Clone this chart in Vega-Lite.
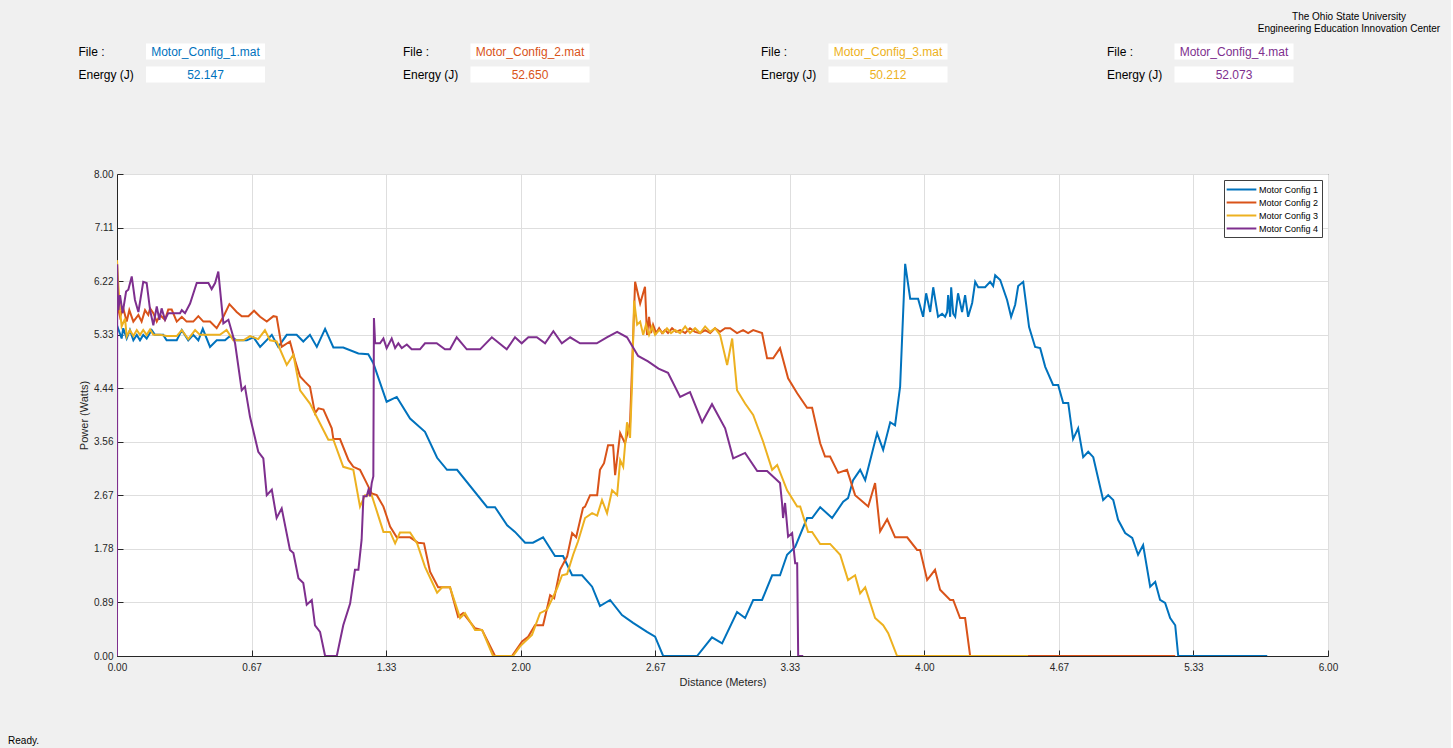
{
"$schema": "https://vega.github.io/schema/vega-lite/v6.json",
"background": "#f0f0f0",
"padding": {"left": 8, "top": 12, "right": 10, "bottom": 2},
"config": {"font": "Liberation Sans", "view": {"stroke": null}},
"title": {"text": "Ready.", "orient": "bottom", "anchor": "start", "frame": "bounds", "fontSize": 10, "fontWeight": "normal", "color": "#000000", "dx": -70, "offset": 48},
"spacing": 79,
"resolve": {"scale": {"color": "independent"}, "legend": {"color": "independent"}},
"datasets": {
"header": [
{"config":"Motor Config 1","cfg":1,"row":"File :","val":"Motor_Config_1.mat"},
{"config":"Motor Config 1","cfg":1,"row":"Energy (J)","val":"52.147"},
{"config":"Motor Config 2","cfg":2,"row":"File :","val":"Motor_Config_2.mat"},
{"config":"Motor Config 2","cfg":2,"row":"Energy (J)","val":"52.650"},
{"config":"Motor Config 3","cfg":3,"row":"File :","val":"Motor_Config_3.mat"},
{"config":"Motor Config 3","cfg":3,"row":"Energy (J)","val":"50.212"},
{"config":"Motor Config 4","cfg":4,"row":"File :","val":"Motor_Config_4.mat"},
{"config":"Motor Config 4","cfg":4,"row":"Energy (J)","val":"52.073"}
],
"power": [
{"config":"Motor Config 1","d":0,"p":5.49},{"config":"Motor Config 1","d":0.023,"p":5.27},{"config":"Motor Config 1","d":0.031,"p":5.44},{"config":"Motor Config 1","d":0.048,"p":5.27},{"config":"Motor Config 1","d":0.064,"p":5.41},{"config":"Motor Config 1","d":0.081,"p":5.24},{"config":"Motor Config 1","d":0.098,"p":5.33},{"config":"Motor Config 1","d":0.114,"p":5.24},{"config":"Motor Config 1","d":0.130,"p":5.33},{"config":"Motor Config 1","d":0.147,"p":5.27},{"config":"Motor Config 1","d":0.172,"p":5.41},{"config":"Motor Config 1","d":0.188,"p":5.33},{"config":"Motor Config 1","d":0.229,"p":5.33},{"config":"Motor Config 1","d":0.246,"p":5.24},{"config":"Motor Config 1","d":0.296,"p":5.24},{"config":"Motor Config 1","d":0.321,"p":5.41},{"config":"Motor Config 1","d":0.353,"p":5.24},{"config":"Motor Config 1","d":0.378,"p":5.33},{"config":"Motor Config 1","d":0.403,"p":5.24},{"config":"Motor Config 1","d":0.425,"p":5.43},{"config":"Motor Config 1","d":0.461,"p":5.13},{"config":"Motor Config 1","d":0.494,"p":5.24},{"config":"Motor Config 1","d":0.535,"p":5.24},{"config":"Motor Config 1","d":0.560,"p":5.31},{"config":"Motor Config 1","d":0.593,"p":5.24},{"config":"Motor Config 1","d":0.643,"p":5.24},{"config":"Motor Config 1","d":0.676,"p":5.29},{"config":"Motor Config 1","d":0.709,"p":5.13},{"config":"Motor Config 1","d":0.767,"p":5.33},{"config":"Motor Config 1","d":0.799,"p":5.13},{"config":"Motor Config 1","d":0.841,"p":5.33},{"config":"Motor Config 1","d":0.890,"p":5.33},{"config":"Motor Config 1","d":0.923,"p":5.22},{"config":"Motor Config 1","d":0.956,"p":5.33},{"config":"Motor Config 1","d":0.990,"p":5.13},{"config":"Motor Config 1","d":1.031,"p":5.43},{"config":"Motor Config 1","d":1.072,"p":5.12},{"config":"Motor Config 1","d":1.121,"p":5.12},{"config":"Motor Config 1","d":1.196,"p":5.02},{"config":"Motor Config 1","d":1.245,"p":5.01},{"config":"Motor Config 1","d":1.270,"p":4.86},{"config":"Motor Config 1","d":1.336,"p":4.22},{"config":"Motor Config 1","d":1.386,"p":4.30},{"config":"Motor Config 1","d":1.452,"p":3.94},{"config":"Motor Config 1","d":1.526,"p":3.72},{"config":"Motor Config 1","d":1.586,"p":3.29},{"config":"Motor Config 1","d":1.635,"p":3.09},{"config":"Motor Config 1","d":1.685,"p":3.09},{"config":"Motor Config 1","d":1.834,"p":2.47},{"config":"Motor Config 1","d":1.873,"p":2.47},{"config":"Motor Config 1","d":1.933,"p":2.17},{"config":"Motor Config 1","d":1.972,"p":2.06},{"config":"Motor Config 1","d":2.022,"p":1.88},{"config":"Motor Config 1","d":2.061,"p":1.88},{"config":"Motor Config 1","d":2.111,"p":1.97},{"config":"Motor Config 1","d":2.170,"p":1.66},{"config":"Motor Config 1","d":2.210,"p":1.66},{"config":"Motor Config 1","d":2.255,"p":1.34},{"config":"Motor Config 1","d":2.304,"p":1.34},{"config":"Motor Config 1","d":2.354,"p":1.15},{"config":"Motor Config 1","d":2.393,"p":0.83},{"config":"Motor Config 1","d":2.443,"p":0.93},{"config":"Motor Config 1","d":2.502,"p":0.68},{"config":"Motor Config 1","d":2.557,"p":0.55},{"config":"Motor Config 1","d":2.626,"p":0.40},{"config":"Motor Config 1","d":2.666,"p":0.32},{"config":"Motor Config 1","d":2.706,"p":0},{"config":"Motor Config 1","d":2.874,"p":0},{"config":"Motor Config 1","d":2.948,"p":0.31},{"config":"Motor Config 1","d":2.998,"p":0.21},{"config":"Motor Config 1","d":3.072,"p":0.73},{"config":"Motor Config 1","d":3.112,"p":0.63},{"config":"Motor Config 1","d":3.152,"p":0.93},{"config":"Motor Config 1","d":3.196,"p":0.93},{"config":"Motor Config 1","d":3.246,"p":1.34},{"config":"Motor Config 1","d":3.285,"p":1.34},{"config":"Motor Config 1","d":3.320,"p":1.68},{"config":"Motor Config 1","d":3.360,"p":1.81},{"config":"Motor Config 1","d":3.419,"p":2.29},{"config":"Motor Config 1","d":3.444,"p":2.29},{"config":"Motor Config 1","d":3.484,"p":2.47},{"config":"Motor Config 1","d":3.543,"p":2.29},{"config":"Motor Config 1","d":3.598,"p":2.56},{"config":"Motor Config 1","d":3.622,"p":2.62},{"config":"Motor Config 1","d":3.647,"p":2.92},{"config":"Motor Config 1","d":3.682,"p":3.09},{"config":"Motor Config 1","d":3.707,"p":2.92},{"config":"Motor Config 1","d":3.766,"p":3.70},{"config":"Motor Config 1","d":3.796,"p":3.42},{"config":"Motor Config 1","d":3.831,"p":3.88},{"config":"Motor Config 1","d":3.855,"p":3.83},{"config":"Motor Config 1","d":3.880,"p":4.47},{"config":"Motor Config 1","d":3.905,"p":6.51},{"config":"Motor Config 1","d":3.930,"p":5.93},{"config":"Motor Config 1","d":3.969,"p":5.93},{"config":"Motor Config 1","d":3.994,"p":5.63},{"config":"Motor Config 1","d":4.009,"p":6.02},{"config":"Motor Config 1","d":4.029,"p":5.71},{"config":"Motor Config 1","d":4.044,"p":6.12},{"config":"Motor Config 1","d":4.068,"p":5.63},{"config":"Motor Config 1","d":4.088,"p":5.68},{"config":"Motor Config 1","d":4.103,"p":5.63},{"config":"Motor Config 1","d":4.113,"p":5.71},{"config":"Motor Config 1","d":4.118,"p":5.99},{"config":"Motor Config 1","d":4.128,"p":5.63},{"config":"Motor Config 1","d":4.133,"p":6.12},{"config":"Motor Config 1","d":4.143,"p":5.68},{"config":"Motor Config 1","d":4.153,"p":5.63},{"config":"Motor Config 1","d":4.167,"p":6.02},{"config":"Motor Config 1","d":4.187,"p":5.71},{"config":"Motor Config 1","d":4.202,"p":5.99},{"config":"Motor Config 1","d":4.217,"p":5.63},{"config":"Motor Config 1","d":4.237,"p":5.86},{"config":"Motor Config 1","d":4.252,"p":6.21},{"config":"Motor Config 1","d":4.267,"p":6.12},{"config":"Motor Config 1","d":4.301,"p":6.12},{"config":"Motor Config 1","d":4.326,"p":6.21},{"config":"Motor Config 1","d":4.341,"p":6.14},{"config":"Motor Config 1","d":4.351,"p":6.32},{"config":"Motor Config 1","d":4.376,"p":6.24},{"config":"Motor Config 1","d":4.410,"p":5.91},{"config":"Motor Config 1","d":4.430,"p":5.63},{"config":"Motor Config 1","d":4.450,"p":5.83},{"config":"Motor Config 1","d":4.465,"p":6.14},{"config":"Motor Config 1","d":4.490,"p":6.21},{"config":"Motor Config 1","d":4.519,"p":5.46},{"config":"Motor Config 1","d":4.549,"p":5.13},{"config":"Motor Config 1","d":4.574,"p":5.11},{"config":"Motor Config 1","d":4.599,"p":4.80},{"config":"Motor Config 1","d":4.638,"p":4.50},{"config":"Motor Config 1","d":4.663,"p":4.50},{"config":"Motor Config 1","d":4.688,"p":4.20},{"config":"Motor Config 1","d":4.713,"p":4.20},{"config":"Motor Config 1","d":4.737,"p":3.60},{"config":"Motor Config 1","d":4.762,"p":3.78},{"config":"Motor Config 1","d":4.787,"p":3.30},{"config":"Motor Config 1","d":4.812,"p":3.39},{"config":"Motor Config 1","d":4.837,"p":3.30},{"config":"Motor Config 1","d":4.886,"p":2.59},{"config":"Motor Config 1","d":4.911,"p":2.67},{"config":"Motor Config 1","d":4.936,"p":2.59},{"config":"Motor Config 1","d":4.960,"p":2.26},{"config":"Motor Config 1","d":4.995,"p":2.04},{"config":"Motor Config 1","d":5.030,"p":1.96},{"config":"Motor Config 1","d":5.059,"p":1.68},{"config":"Motor Config 1","d":5.084,"p":1.84},{"config":"Motor Config 1","d":5.119,"p":1.15},{"config":"Motor Config 1","d":5.144,"p":1.23},{"config":"Motor Config 1","d":5.168,"p":0.93},{"config":"Motor Config 1","d":5.193,"p":0.88},{"config":"Motor Config 1","d":5.218,"p":0.63},{"config":"Motor Config 1","d":5.243,"p":0.51},{"config":"Motor Config 1","d":5.258,"p":0},{"config":"Motor Config 1","d":5.699,"p":0},
{"config":"Motor Config 2","d":0,"p":5.85},{"config":"Motor Config 2","d":0.015,"p":5.63},{"config":"Motor Config 2","d":0.031,"p":5.77},{"config":"Motor Config 2","d":0.048,"p":5.55},{"config":"Motor Config 2","d":0.061,"p":5.74},{"config":"Motor Config 2","d":0.081,"p":5.55},{"config":"Motor Config 2","d":0.106,"p":5.66},{"config":"Motor Config 2","d":0.122,"p":5.55},{"config":"Motor Config 2","d":0.139,"p":5.74},{"config":"Motor Config 2","d":0.155,"p":5.66},{"config":"Motor Config 2","d":0.164,"p":5.77},{"config":"Motor Config 2","d":0.180,"p":5.69},{"config":"Motor Config 2","d":0.197,"p":5.55},{"config":"Motor Config 2","d":0.213,"p":5.66},{"config":"Motor Config 2","d":0.238,"p":5.58},{"config":"Motor Config 2","d":0.254,"p":5.75},{"config":"Motor Config 2","d":0.271,"p":5.75},{"config":"Motor Config 2","d":0.296,"p":5.55},{"config":"Motor Config 2","d":0.321,"p":5.63},{"config":"Motor Config 2","d":0.345,"p":5.55},{"config":"Motor Config 2","d":0.378,"p":5.55},{"config":"Motor Config 2","d":0.403,"p":5.64},{"config":"Motor Config 2","d":0.428,"p":5.55},{"config":"Motor Config 2","d":0.461,"p":5.55},{"config":"Motor Config 2","d":0.494,"p":5.44},{"config":"Motor Config 2","d":0.527,"p":5.63},{"config":"Motor Config 2","d":0.557,"p":5.84},{"config":"Motor Config 2","d":0.593,"p":5.71},{"config":"Motor Config 2","d":0.618,"p":5.64},{"config":"Motor Config 2","d":0.651,"p":5.64},{"config":"Motor Config 2","d":0.679,"p":5.73},{"config":"Motor Config 2","d":0.709,"p":5.63},{"config":"Motor Config 2","d":0.742,"p":5.55},{"config":"Motor Config 2","d":0.775,"p":5.64},{"config":"Motor Config 2","d":0.791,"p":5.63},{"config":"Motor Config 2","d":0.816,"p":5.13},{"config":"Motor Config 2","d":0.857,"p":5.22},{"config":"Motor Config 2","d":0.882,"p":4.91},{"config":"Motor Config 2","d":0.907,"p":4.64},{"config":"Motor Config 2","d":0.932,"p":4.55},{"config":"Motor Config 2","d":0.956,"p":4.47},{"config":"Motor Config 2","d":0.981,"p":4.03},{"config":"Motor Config 2","d":0.998,"p":4.11},{"config":"Motor Config 2","d":1.023,"p":4.09},{"config":"Motor Config 2","d":1.064,"p":3.78},{"config":"Motor Config 2","d":1.072,"p":3.60},{"config":"Motor Config 2","d":1.105,"p":3.60},{"config":"Motor Config 2","d":1.147,"p":3.25},{"config":"Motor Config 2","d":1.171,"p":3.14},{"config":"Motor Config 2","d":1.204,"p":3.09},{"config":"Motor Config 2","d":1.237,"p":2.87},{"config":"Motor Config 2","d":1.262,"p":2.70},{"config":"Motor Config 2","d":1.287,"p":2.67},{"config":"Motor Config 2","d":1.320,"p":2.48},{"config":"Motor Config 2","d":1.353,"p":2.15},{"config":"Motor Config 2","d":1.386,"p":1.97},{"config":"Motor Config 2","d":1.452,"p":1.97},{"config":"Motor Config 2","d":1.492,"p":1.88},{"config":"Motor Config 2","d":1.521,"p":1.87},{"config":"Motor Config 2","d":1.551,"p":1.40},{"config":"Motor Config 2","d":1.591,"p":1.14},{"config":"Motor Config 2","d":1.650,"p":1.14},{"config":"Motor Config 2","d":1.690,"p":0.65},{"config":"Motor Config 2","d":1.715,"p":0.71},{"config":"Motor Config 2","d":1.774,"p":0.46},{"config":"Motor Config 2","d":1.809,"p":0.43},{"config":"Motor Config 2","d":1.873,"p":0},{"config":"Motor Config 2","d":1.957,"p":0},{"config":"Motor Config 2","d":2.007,"p":0.24},{"config":"Motor Config 2","d":2.037,"p":0.32},{"config":"Motor Config 2","d":2.071,"p":0.51},{"config":"Motor Config 2","d":2.111,"p":0.51},{"config":"Motor Config 2","d":2.146,"p":1.01},{"config":"Motor Config 2","d":2.166,"p":0.96},{"config":"Motor Config 2","d":2.195,"p":1.43},{"config":"Motor Config 2","d":2.230,"p":1.65},{"config":"Motor Config 2","d":2.255,"p":2.04},{"config":"Motor Config 2","d":2.275,"p":1.97},{"config":"Motor Config 2","d":2.309,"p":2.46},{"config":"Motor Config 2","d":2.319,"p":2.48},{"config":"Motor Config 2","d":2.344,"p":2.67},{"config":"Motor Config 2","d":2.379,"p":2.67},{"config":"Motor Config 2","d":2.393,"p":3.09},{"config":"Motor Config 2","d":2.413,"p":3.20},{"config":"Motor Config 2","d":2.433,"p":3.50},{"config":"Motor Config 2","d":2.458,"p":3.50},{"config":"Motor Config 2","d":2.468,"p":3.00},{"config":"Motor Config 2","d":2.493,"p":3.70},{"config":"Motor Config 2","d":2.517,"p":3.53},{"config":"Motor Config 2","d":2.542,"p":3.87},{"config":"Motor Config 2","d":2.567,"p":6.21},{"config":"Motor Config 2","d":2.592,"p":5.85},{"config":"Motor Config 2","d":2.616,"p":6.13},{"config":"Motor Config 2","d":2.626,"p":5.33},{"config":"Motor Config 2","d":2.636,"p":5.63},{"config":"Motor Config 2","d":2.646,"p":5.36},{"config":"Motor Config 2","d":2.656,"p":5.50},{"config":"Motor Config 2","d":2.671,"p":5.36},{"config":"Motor Config 2","d":2.686,"p":5.44},{"config":"Motor Config 2","d":2.701,"p":5.36},{"config":"Motor Config 2","d":2.716,"p":5.41},{"config":"Motor Config 2","d":2.730,"p":5.36},{"config":"Motor Config 2","d":2.750,"p":5.44},{"config":"Motor Config 2","d":2.770,"p":5.38},{"config":"Motor Config 2","d":2.790,"p":5.41},{"config":"Motor Config 2","d":2.815,"p":5.36},{"config":"Motor Config 2","d":2.839,"p":5.44},{"config":"Motor Config 2","d":2.864,"p":5.38},{"config":"Motor Config 2","d":2.889,"p":5.36},{"config":"Motor Config 2","d":2.914,"p":5.41},{"config":"Motor Config 2","d":2.939,"p":5.36},{"config":"Motor Config 2","d":2.963,"p":5.44},{"config":"Motor Config 2","d":2.988,"p":5.38},{"config":"Motor Config 2","d":3.013,"p":5.44},{"config":"Motor Config 2","d":3.038,"p":5.44},{"config":"Motor Config 2","d":3.072,"p":5.36},{"config":"Motor Config 2","d":3.102,"p":5.41},{"config":"Motor Config 2","d":3.127,"p":5.36},{"config":"Motor Config 2","d":3.152,"p":5.41},{"config":"Motor Config 2","d":3.196,"p":5.36},{"config":"Motor Config 2","d":3.221,"p":4.94},{"config":"Motor Config 2","d":3.251,"p":4.94},{"config":"Motor Config 2","d":3.285,"p":5.11},{"config":"Motor Config 2","d":3.325,"p":4.61},{"config":"Motor Config 2","d":3.370,"p":4.36},{"config":"Motor Config 2","d":3.419,"p":4.12},{"config":"Motor Config 2","d":3.444,"p":4.12},{"config":"Motor Config 2","d":3.484,"p":3.53},{"config":"Motor Config 2","d":3.508,"p":3.31},{"config":"Motor Config 2","d":3.533,"p":3.31},{"config":"Motor Config 2","d":3.573,"p":3.04},{"config":"Motor Config 2","d":3.617,"p":3.09},{"config":"Motor Config 2","d":3.657,"p":2.67},{"config":"Motor Config 2","d":3.722,"p":2.48},{"config":"Motor Config 2","d":3.756,"p":2.87},{"config":"Motor Config 2","d":3.781,"p":2.07},{"config":"Motor Config 2","d":3.816,"p":2.27},{"config":"Motor Config 2","d":3.855,"p":1.97},{"config":"Motor Config 2","d":3.915,"p":1.97},{"config":"Motor Config 2","d":3.964,"p":1.76},{"config":"Motor Config 2","d":3.979,"p":1.76},{"config":"Motor Config 2","d":4.014,"p":1.26},{"config":"Motor Config 2","d":4.053,"p":1.43},{"config":"Motor Config 2","d":4.078,"p":1.10},{"config":"Motor Config 2","d":4.128,"p":0.93},{"config":"Motor Config 2","d":4.143,"p":0.93},{"config":"Motor Config 2","d":4.177,"p":0.63},{"config":"Motor Config 2","d":4.202,"p":0.63},{"config":"Motor Config 2","d":4.227,"p":0},{"config":"Motor Config 2","d":5.243,"p":0},
{"config":"Motor Config 3","d":0,"p":6.57},{"config":"Motor Config 3","d":0.007,"p":6.13},{"config":"Motor Config 3","d":0.015,"p":5.74},{"config":"Motor Config 3","d":0.023,"p":5.47},{"config":"Motor Config 3","d":0.040,"p":5.60},{"config":"Motor Config 3","d":0.048,"p":5.30},{"config":"Motor Config 3","d":0.064,"p":5.41},{"config":"Motor Config 3","d":0.081,"p":5.31},{"config":"Motor Config 3","d":0.098,"p":5.41},{"config":"Motor Config 3","d":0.114,"p":5.33},{"config":"Motor Config 3","d":0.130,"p":5.41},{"config":"Motor Config 3","d":0.147,"p":5.33},{"config":"Motor Config 3","d":0.164,"p":5.42},{"config":"Motor Config 3","d":0.180,"p":5.33},{"config":"Motor Config 3","d":0.213,"p":5.33},{"config":"Motor Config 3","d":0.246,"p":5.31},{"config":"Motor Config 3","d":0.296,"p":5.31},{"config":"Motor Config 3","d":0.321,"p":5.41},{"config":"Motor Config 3","d":0.353,"p":5.26},{"config":"Motor Config 3","d":0.387,"p":5.41},{"config":"Motor Config 3","d":0.411,"p":5.33},{"config":"Motor Config 3","d":0.461,"p":5.33},{"config":"Motor Config 3","d":0.510,"p":5.33},{"config":"Motor Config 3","d":0.543,"p":5.41},{"config":"Motor Config 3","d":0.576,"p":5.24},{"config":"Motor Config 3","d":0.626,"p":5.24},{"config":"Motor Config 3","d":0.659,"p":5.31},{"config":"Motor Config 3","d":0.700,"p":5.26},{"config":"Motor Config 3","d":0.733,"p":5.41},{"config":"Motor Config 3","d":0.758,"p":5.24},{"config":"Motor Config 3","d":0.791,"p":5.22},{"config":"Motor Config 3","d":0.841,"p":4.83},{"config":"Motor Config 3","d":0.874,"p":5.00},{"config":"Motor Config 3","d":0.907,"p":4.41},{"config":"Motor Config 3","d":0.956,"p":4.19},{"config":"Motor Config 3","d":1.006,"p":3.86},{"config":"Motor Config 3","d":1.047,"p":3.59},{"config":"Motor Config 3","d":1.072,"p":3.59},{"config":"Motor Config 3","d":1.121,"p":3.14},{"config":"Motor Config 3","d":1.171,"p":3.09},{"config":"Motor Config 3","d":1.204,"p":2.48},{"config":"Motor Config 3","d":1.229,"p":2.67},{"config":"Motor Config 3","d":1.262,"p":2.67},{"config":"Motor Config 3","d":1.320,"p":2.06},{"config":"Motor Config 3","d":1.353,"p":2.06},{"config":"Motor Config 3","d":1.378,"p":1.87},{"config":"Motor Config 3","d":1.402,"p":2.05},{"config":"Motor Config 3","d":1.452,"p":2.05},{"config":"Motor Config 3","d":1.487,"p":1.87},{"config":"Motor Config 3","d":1.526,"p":1.48},{"config":"Motor Config 3","d":1.586,"p":1.05},{"config":"Motor Config 3","d":1.611,"p":1.14},{"config":"Motor Config 3","d":1.650,"p":1.14},{"config":"Motor Config 3","d":1.700,"p":0.63},{"config":"Motor Config 3","d":1.724,"p":0.71},{"config":"Motor Config 3","d":1.774,"p":0.43},{"config":"Motor Config 3","d":1.809,"p":0.43},{"config":"Motor Config 3","d":1.863,"p":0},{"config":"Motor Config 3","d":1.962,"p":0},{"config":"Motor Config 3","d":1.997,"p":0.16},{"config":"Motor Config 3","d":2.056,"p":0.35},{"config":"Motor Config 3","d":2.096,"p":0.71},{"config":"Motor Config 3","d":2.131,"p":0.77},{"config":"Motor Config 3","d":2.180,"p":1.12},{"config":"Motor Config 3","d":2.205,"p":1.34},{"config":"Motor Config 3","d":2.230,"p":1.36},{"config":"Motor Config 3","d":2.260,"p":1.68},{"config":"Motor Config 3","d":2.284,"p":1.90},{"config":"Motor Config 3","d":2.319,"p":2.29},{"config":"Motor Config 3","d":2.354,"p":2.37},{"config":"Motor Config 3","d":2.379,"p":2.33},{"config":"Motor Config 3","d":2.403,"p":2.59},{"config":"Motor Config 3","d":2.428,"p":2.37},{"config":"Motor Config 3","d":2.453,"p":2.75},{"config":"Motor Config 3","d":2.478,"p":2.67},{"config":"Motor Config 3","d":2.493,"p":3.25},{"config":"Motor Config 3","d":2.508,"p":3.14},{"config":"Motor Config 3","d":2.527,"p":3.88},{"config":"Motor Config 3","d":2.542,"p":3.62},{"config":"Motor Config 3","d":2.552,"p":4.53},{"config":"Motor Config 3","d":2.562,"p":5.90},{"config":"Motor Config 3","d":2.577,"p":5.50},{"config":"Motor Config 3","d":2.592,"p":5.55},{"config":"Motor Config 3","d":2.607,"p":5.33},{"config":"Motor Config 3","d":2.621,"p":5.50},{"config":"Motor Config 3","d":2.636,"p":5.33},{"config":"Motor Config 3","d":2.651,"p":5.47},{"config":"Motor Config 3","d":2.666,"p":5.33},{"config":"Motor Config 3","d":2.686,"p":5.41},{"config":"Motor Config 3","d":2.706,"p":5.36},{"config":"Motor Config 3","d":2.725,"p":5.44},{"config":"Motor Config 3","d":2.745,"p":5.36},{"config":"Motor Config 3","d":2.765,"p":5.41},{"config":"Motor Config 3","d":2.790,"p":5.36},{"config":"Motor Config 3","d":2.815,"p":5.47},{"config":"Motor Config 3","d":2.839,"p":5.36},{"config":"Motor Config 3","d":2.864,"p":5.44},{"config":"Motor Config 3","d":2.889,"p":5.36},{"config":"Motor Config 3","d":2.914,"p":5.47},{"config":"Motor Config 3","d":2.939,"p":5.38},{"config":"Motor Config 3","d":2.963,"p":5.44},{"config":"Motor Config 3","d":2.988,"p":5.33},{"config":"Motor Config 3","d":3.023,"p":4.83},{"config":"Motor Config 3","d":3.048,"p":5.27},{"config":"Motor Config 3","d":3.072,"p":4.41},{"config":"Motor Config 3","d":3.112,"p":4.19},{"config":"Motor Config 3","d":3.152,"p":4.00},{"config":"Motor Config 3","d":3.201,"p":3.56},{"config":"Motor Config 3","d":3.246,"p":3.09},{"config":"Motor Config 3","d":3.271,"p":3.17},{"config":"Motor Config 3","d":3.320,"p":2.75},{"config":"Motor Config 3","d":3.370,"p":2.48},{"config":"Motor Config 3","d":3.385,"p":2.48},{"config":"Motor Config 3","d":3.424,"p":2.06},{"config":"Motor Config 3","d":3.444,"p":2.06},{"config":"Motor Config 3","d":3.484,"p":1.86},{"config":"Motor Config 3","d":3.533,"p":1.86},{"config":"Motor Config 3","d":3.583,"p":1.68},{"config":"Motor Config 3","d":3.622,"p":1.26},{"config":"Motor Config 3","d":3.657,"p":1.34},{"config":"Motor Config 3","d":3.682,"p":1.04},{"config":"Motor Config 3","d":3.707,"p":1.14},{"config":"Motor Config 3","d":3.756,"p":0.63},{"config":"Motor Config 3","d":3.796,"p":0.51},{"config":"Motor Config 3","d":3.821,"p":0.38},{"config":"Motor Config 3","d":3.865,"p":0},{"config":"Motor Config 3","d":4.514,"p":0},
{"config":"Motor Config 4","d":0,"p":0},{"config":"Motor Config 4","d":0.001,"p":6.5},{"config":"Motor Config 4","d":0.004,"p":6.02},{"config":"Motor Config 4","d":0.007,"p":5.74},{"config":"Motor Config 4","d":0.015,"p":5.99},{"config":"Motor Config 4","d":0.028,"p":5.69},{"config":"Motor Config 4","d":0.045,"p":6.05},{"config":"Motor Config 4","d":0.056,"p":6.08},{"config":"Motor Config 4","d":0.073,"p":6.30},{"config":"Motor Config 4","d":0.089,"p":5.91},{"config":"Motor Config 4","d":0.106,"p":5.71},{"config":"Motor Config 4","d":0.130,"p":6.21},{"config":"Motor Config 4","d":0.147,"p":6.19},{"config":"Motor Config 4","d":0.164,"p":5.74},{"config":"Motor Config 4","d":0.180,"p":5.49},{"config":"Motor Config 4","d":0.197,"p":5.80},{"config":"Motor Config 4","d":0.210,"p":5.58},{"config":"Motor Config 4","d":0.221,"p":5.77},{"config":"Motor Config 4","d":0.238,"p":5.58},{"config":"Motor Config 4","d":0.254,"p":5.69},{"config":"Motor Config 4","d":0.279,"p":5.69},{"config":"Motor Config 4","d":0.312,"p":5.69},{"config":"Motor Config 4","d":0.321,"p":5.74},{"config":"Motor Config 4","d":0.337,"p":5.69},{"config":"Motor Config 4","d":0.362,"p":5.85},{"config":"Motor Config 4","d":0.395,"p":6.19},{"config":"Motor Config 4","d":0.453,"p":6.19},{"config":"Motor Config 4","d":0.469,"p":6.09},{"config":"Motor Config 4","d":0.486,"p":6.19},{"config":"Motor Config 4","d":0.502,"p":6.38},{"config":"Motor Config 4","d":0.527,"p":5.52},{"config":"Motor Config 4","d":0.552,"p":5.58},{"config":"Motor Config 4","d":0.585,"p":5.19},{"config":"Motor Config 4","d":0.618,"p":4.41},{"config":"Motor Config 4","d":0.634,"p":4.47},{"config":"Motor Config 4","d":0.659,"p":3.97},{"config":"Motor Config 4","d":0.700,"p":3.39},{"config":"Motor Config 4","d":0.725,"p":3.28},{"config":"Motor Config 4","d":0.742,"p":2.67},{"config":"Motor Config 4","d":0.767,"p":2.76},{"config":"Motor Config 4","d":0.791,"p":2.29},{"config":"Motor Config 4","d":0.816,"p":2.45},{"config":"Motor Config 4","d":0.857,"p":1.76},{"config":"Motor Config 4","d":0.874,"p":1.71},{"config":"Motor Config 4","d":0.899,"p":1.29},{"config":"Motor Config 4","d":0.923,"p":1.21},{"config":"Motor Config 4","d":0.940,"p":0.85},{"config":"Motor Config 4","d":0.965,"p":0.93},{"config":"Motor Config 4","d":0.981,"p":0.51},{"config":"Motor Config 4","d":1.006,"p":0.40},{"config":"Motor Config 4","d":1.031,"p":0},{"config":"Motor Config 4","d":1.089,"p":0},{"config":"Motor Config 4","d":1.121,"p":0.51},{"config":"Motor Config 4","d":1.155,"p":0.87},{"config":"Motor Config 4","d":1.179,"p":1.43},{"config":"Motor Config 4","d":1.196,"p":1.43},{"config":"Motor Config 4","d":1.212,"p":1.93},{"config":"Motor Config 4","d":1.221,"p":2.65},{"config":"Motor Config 4","d":1.237,"p":2.65},{"config":"Motor Config 4","d":1.246,"p":2.76},{"config":"Motor Config 4","d":1.254,"p":2.65},{"config":"Motor Config 4","d":1.262,"p":2.87},{"config":"Motor Config 4","d":1.270,"p":2.98},{"config":"Motor Config 4","d":1.273,"p":5.61},{"config":"Motor Config 4","d":1.279,"p":5.19},{"config":"Motor Config 4","d":1.303,"p":5.19},{"config":"Motor Config 4","d":1.320,"p":5.27},{"config":"Motor Config 4","d":1.336,"p":5.11},{"config":"Motor Config 4","d":1.361,"p":5.27},{"config":"Motor Config 4","d":1.378,"p":5.11},{"config":"Motor Config 4","d":1.394,"p":5.19},{"config":"Motor Config 4","d":1.411,"p":5.11},{"config":"Motor Config 4","d":1.436,"p":5.17},{"config":"Motor Config 4","d":1.460,"p":5.09},{"config":"Motor Config 4","d":1.501,"p":5.09},{"config":"Motor Config 4","d":1.526,"p":5.19},{"config":"Motor Config 4","d":1.584,"p":5.19},{"config":"Motor Config 4","d":1.625,"p":5.09},{"config":"Motor Config 4","d":1.650,"p":5.09},{"config":"Motor Config 4","d":1.683,"p":5.29},{"config":"Motor Config 4","d":1.733,"p":5.09},{"config":"Motor Config 4","d":1.799,"p":5.09},{"config":"Motor Config 4","d":1.857,"p":5.29},{"config":"Motor Config 4","d":1.931,"p":5.09},{"config":"Motor Config 4","d":1.972,"p":5.29},{"config":"Motor Config 4","d":2.005,"p":5.19},{"config":"Motor Config 4","d":2.038,"p":5.29},{"config":"Motor Config 4","d":2.080,"p":5.29},{"config":"Motor Config 4","d":2.121,"p":5.19},{"config":"Motor Config 4","d":2.162,"p":5.39},{"config":"Motor Config 4","d":2.204,"p":5.19},{"config":"Motor Config 4","d":2.245,"p":5.29},{"config":"Motor Config 4","d":2.294,"p":5.19},{"config":"Motor Config 4","d":2.377,"p":5.19},{"config":"Motor Config 4","d":2.427,"p":5.29},{"config":"Motor Config 4","d":2.478,"p":5.38},{"config":"Motor Config 4","d":2.527,"p":5.29},{"config":"Motor Config 4","d":2.582,"p":4.98},{"config":"Motor Config 4","d":2.631,"p":4.89},{"config":"Motor Config 4","d":2.683,"p":4.77},{"config":"Motor Config 4","d":2.730,"p":4.70},{"config":"Motor Config 4","d":2.790,"p":4.30},{"config":"Motor Config 4","d":2.839,"p":4.38},{"config":"Motor Config 4","d":2.899,"p":3.88},{"config":"Motor Config 4","d":2.948,"p":4.18},{"config":"Motor Config 4","d":3.013,"p":3.78},{"config":"Motor Config 4","d":3.053,"p":3.28},{"config":"Motor Config 4","d":3.112,"p":3.37},{"config":"Motor Config 4","d":3.172,"p":3.07},{"config":"Motor Config 4","d":3.221,"p":3.07},{"config":"Motor Config 4","d":3.285,"p":2.87},{"config":"Motor Config 4","d":3.295,"p":2.54},{"config":"Motor Config 4","d":3.300,"p":2.29},{"config":"Motor Config 4","d":3.310,"p":2.54},{"config":"Motor Config 4","d":3.325,"p":1.98},{"config":"Motor Config 4","d":3.345,"p":2.04},{"config":"Motor Config 4","d":3.360,"p":1.54},{"config":"Motor Config 4","d":3.370,"p":1.54},{"config":"Motor Config 4","d":3.375,"p":0},{"config":"Motor Config 4","d":3.400,"p":0}
]
},
"vconcat": [
{
"width": 1211,
"height": 50,
"title": {"text": ["The Ohio State University", "Engineering Education Innovation Center"], "anchor": "end", "frame": "group", "align": "center", "fontSize": 10, "fontWeight": "normal", "color": "#000000", "lineHeight": 12, "dx": 21, "offset": 5},
"data": {"name": "header"},
"encoding": {
"x": {"field": "cfg", "type": "quantitative", "scale": {"domain": [1, 2, 3, 4], "range": [88.5, 413, 771, 1117]}, "axis": null},
"y": {"field": "row", "type": "nominal", "scale": {"type": "point", "padding": 0, "domain": ["File :", "Energy (J)"], "range": [12.5, 35.5]}, "axis": null}
},
"layer": [
{"mark": {"type": "rect", "width": 119, "height": 16, "fill": "#ffffff"}},
{"mark": {"type": "text", "align": "center", "baseline": "middle", "fontSize": 12}, "encoding": {"text": {"field": "val"}, "color": {"field": "config", "type": "nominal", "scale": {"domain": ["Motor Config 1", "Motor Config 2", "Motor Config 3", "Motor Config 4"], "range": ["#0072BD", "#D95319", "#EDB120", "#7E2F8E"]}, "legend": null}}},
{"mark": {"type": "text", "align": "left", "baseline": "middle", "dx": -127, "fontSize": 12, "color": "#000000"}, "encoding": {"text": {"field": "row"}}}
]
},
{
"width": 1211,
"height": 482,
"data": {"name": "power"},
"view": {"fill": "#ffffff", "stroke": "#262626", "strokeWidth": 1},
"mark": {"type": "line", "strokeWidth": 2, "clip": true},
"encoding": {
"x": {"field": "d", "type": "quantitative", "scale": {"domain": [0, 6], "nice": false}, "axis": {"title": "Distance (Meters)", "values": [0, 0.6667, 1.3333, 2, 2.6667, 3.3333, 4, 4.6667, 5.3333, 6], "format": ".2f", "labelFlush": false, "grid": true, "gridColor": "#dedede", "domainColor": "#262626", "tickColor": "#262626", "tickSize": -6, "labelPadding": 12, "labelFontSize": 10, "labelColor": "#262626", "titleFontSize": 11, "titleFontWeight": "normal", "titleColor": "#262626", "titlePadding": 4}},
"y": {"field": "p", "type": "quantitative", "scale": {"domain": [0, 8], "nice": false}, "axis": {"title": "Power (Watts)", "values": [0, 0.8889, 1.7778, 2.6667, 3.5556, 4.4444, 5.3333, 6.2222, 7.1111, 8], "format": ".2f", "labelFlush": false, "grid": true, "gridColor": "#dedede", "domainColor": "#262626", "tickColor": "#262626", "tickSize": -6, "labelPadding": 10, "labelFontSize": 10, "labelColor": "#262626", "titleFontSize": 11, "titleFontWeight": "normal", "titleColor": "#262626", "titlePadding": 4}},
"color": {"field": "config", "type": "nominal", "scale": {"domain": ["Motor Config 1", "Motor Config 2", "Motor Config 3", "Motor Config 4"], "range": ["#0072BD", "#D95319", "#EDB120", "#7E2F8E"]}, "legend": {"title": null, "orient": "top-right", "offset": 6, "fillColor": "#ffffff", "strokeColor": "#404040", "padding": 3, "symbolType": "M-2.7,0H2.7", "symbolSize": 121, "symbolOffset": 8, "symbolStrokeWidth": 2, "labelFontSize": 9, "labelColor": "#000000", "rowPadding": 1, "labelOffset": 11}}
}
}
]
}
